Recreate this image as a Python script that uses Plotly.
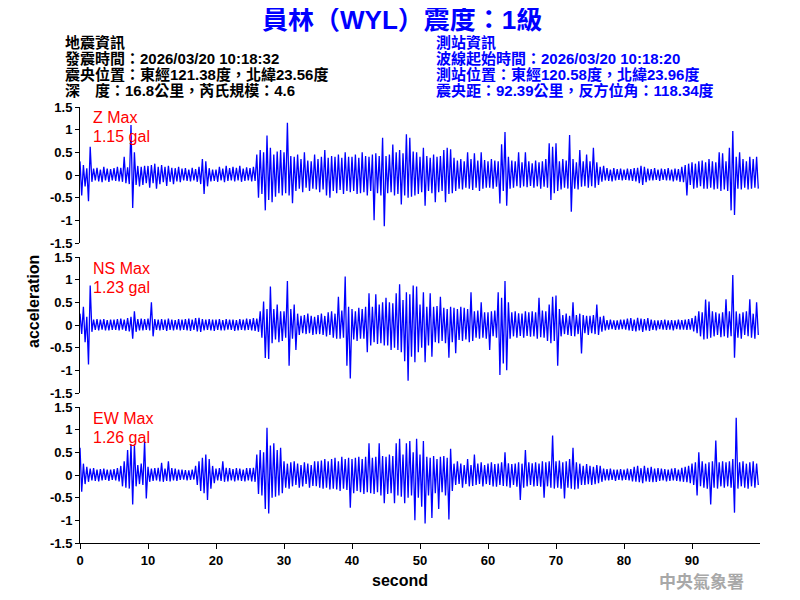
import plotly.graph_objects as go

# ---------------- data (gal), sampled every 0.25 s ----------------
T_STEP = 0.25

z_vals = [
    .30,-.45,.22,-.25,.15,-.58,.62,-.15,.14,-.12,.16,-.14,.12,-.16,.18,-.12,.14,-.15,.13,-.12,
    .15,-.13,.18,-.14,.16,-.15,.40,-.18,.17,-.20,1.10,-.73,.50,-.22,.20,-.25,.18,-.22,.20,-.18,
    .20,-.28,.22,-.18,.25,-.30,.18,-.20,.22,-.16,.18,-.24,.20,-.15,.16,-.20,.15,-.14,.18,-.16,
    .14,-.12,.15,-.13,.12,-.14,.16,-.12,.13,-.15,.18,-.20,.35,-.42,.30,-.25,.15,-.14,.12,-.13,
    .12,-.15,.18,-.12,.14,-.16,.20,-.13,.15,-.12,.18,-.14,.16,-.12,.20,-.15,.14,-.13,.17,-.12,
    .15,-.14,.18,-.13,.45,-.50,.55,-.42,.50,-.78,.87,-.55,.60,-.60,.45,-.48,.52,-.40,.55,-.45,
    .50,-.40,1.15,-.45,.42,-.62,.40,-.35,.45,-.30,.35,-.38,.50,-.28,.32,-.35,.30,-.30,.45,-.32,
    .35,-.38,.40,-.32,.55,-.45,.38,-.50,.42,-.35,.40,-.40,.45,-.33,.38,-.42,.50,-.35,.40,-.38,
    .40,-.35,.45,-.42,.38,-.40,.50,-.38,.42,-.45,.40,-.35,.45,-1.00,.48,-.40,.42,-.45,.82,-1.13,
    .42,-.40,.45,-.38,.67,-.45,.50,-.42,.55,-.65,.48,-.45,.90,-.50,.82,-.48,.52,-.45,.50,-.42,
    .40,-.38,.60,-.68,.42,-.35,.38,-.40,.45,-.60,.40,-.38,.42,-.35,.55,-.60,.60,-.42,.57,-.40,
    .38,-.35,.32,-.30,.35,-.32,.30,-.28,.50,-.30,.35,-.33,.48,-.28,.32,-.35,.50,-.30,.33,-.28,
    .30,-.28,.35,-.30,.32,-.26,.30,-.63,.68,-.35,.95,-.68,.40,-.30,.32,-.28,.30,-.25,.50,-.28,
    .28,-.25,.50,-.27,.30,-.24,.26,-.28,.32,-.25,.28,-.30,.30,-.26,.35,-.28,.70,-.55,.62,-.40,
    .70,-.35,.30,-.32,.35,-.28,.32,-.30,.88,-.81,.35,-.30,.28,-.32,.55,-.26,.30,-.25,.45,-.28,
    .30,-.25,.60,-.28,.28,-.22,.18,-.15,.20,-.12,.15,-.13,.12,-.14,.15,-.12,.13,-.11,.14,-.12,
    .12,-.11,.14,-.12,.13,-.13,.15,-.14,.16,-.18,.20,-.22,.18,-.16,.14,-.12,.13,-.12,.15,-.11,
    .12,-.13,.14,-.11,.13,-.12,.15,-.12,.12,-.14,.14,-.12,.13,-.15,.18,-.16,.22,-.45,.25,-.22,
    .28,-.30,.25,-.28,.30,-.25,.32,-.30,.28,-.30,.35,-.28,.30,-.32,.28,-.30,.50,-.35,.48,-.32,
    .30,-.35,.60,-.78,.97,-.88,.40,-.30,.50,-.32,.35,-.28,.30,-.32,.40,-.30,.35,-.28,.40,-.30,
]

ns_vals = [
    .25,-.20,.40,-.38,.18,-.87,.87,-.15,.12,-.11,.13,-.12,.12,-.10,.13,-.12,.11,-.12,.12,-.11,
    .12,-.11,.13,-.12,.14,-.10,.12,-.13,.15,-.14,.18,-.30,.30,-.15,.13,-.12,.14,-.12,.13,-.11,
    .14,-.12,.50,-.25,.13,-.11,.12,-.12,.13,-.11,.12,-.13,.14,-.11,.12,-.12,.11,-.10,.13,-.12,
    .12,-.11,.13,-.12,.14,-.13,.12,-.11,.15,-.14,.16,-.15,.13,-.12,.12,-.11,.13,-.12,.12,-.13,
    .12,-.11,.13,-.12,.11,-.12,.13,-.10,.12,-.11,.12,-.13,.11,-.12,.13,-.11,.12,-.12,.14,-.11,
    .13,-.12,.15,-.13,.14,-.15,.30,-.28,.52,-.73,.35,-.75,.85,-.40,.35,-.32,.45,-.38,.30,-.35,
    .30,-.28,.97,-.90,.35,-.30,.45,-.55,.25,-.22,.20,-.18,.22,-.20,.25,-.18,.20,-.22,.18,-.20,
    .22,-.20,.25,-.22,.20,-.25,.28,-.22,.30,-.28,.25,-.30,.62,-.30,.32,-.28,1.07,-.90,.40,-1.18,
    .35,-.32,.30,-.35,.38,-.30,.35,-.30,.40,-.60,.70,-.45,.40,-.38,.68,-.42,.45,-.40,.50,-.45,
    .60,-.45,.50,-.55,.48,-.50,.70,-.55,.90,-.60,.55,-.80,.72,-1.23,.68,-.70,.87,-.82,.85,-.60,
    .45,-.50,.72,-.82,.40,-.45,.70,-.70,.40,-.38,.42,-.40,.62,-.35,.38,-.40,.35,-.72,.40,-.38,
    .38,-.62,.35,-.33,.40,-.35,.38,-.32,.35,-.38,.72,-.35,.30,-.28,.32,-.30,.50,-.28,.28,-.30,
    .28,-.55,.30,-.25,.32,-.28,.72,-1.10,.60,-.85,.97,-1.00,.50,-.30,.28,-.25,.30,-.28,.26,-.24,
    .25,-.28,.30,-.24,.28,-.26,.30,-.25,.28,-.30,.60,-.27,.32,-.28,.30,-.35,.45,-.40,.62,-.35,
    .65,-.90,.35,-.25,.22,-.20,.25,-.22,.20,-.24,.50,-.25,.22,-.20,.25,-.63,.22,-.18,.20,-.22,
    .20,-.18,.22,-.20,.45,-.22,.18,-.15,.20,-.12,.11,-.10,.12,-.09,.10,-.11,.10,-.10,.12,-.09,
    .12,-.10,.14,-.12,.15,-.13,.12,-.14,.16,-.12,.14,-.15,.13,-.12,.15,-.13,.12,-.11,.10,-.12,
    .10,-.09,.11,-.10,.12,-.11,.10,-.10,.11,-.12,.10,-.09,.12,-.10,.11,-.10,.12,-.11,.13,-.10,
    .15,-.14,.20,-.18,.30,-.25,.28,-.32,.56,-.30,.52,-.28,.30,-.25,.28,-.22,.25,-.27,.28,-.25,
    .57,-.28,.30,-.25,1.10,-.72,.30,-.28,.25,-.30,.28,-.22,.30,-.25,.57,-.28,.25,-.30,.50,-.22,
]

ew_vals = [
    .60,-.37,.25,-.20,.18,-.15,.14,-.12,.15,-.13,.12,-.14,.13,-.12,.14,-.11,.12,-.13,.12,-.11,
    .13,-.12,.15,-.14,.20,-.25,.30,-.28,.55,-.30,.68,-.65,.67,-.25,.22,-.20,.25,-.22,.75,-.52,
    .18,-.15,.14,-.13,.15,-.12,.16,-.14,.27,-.15,.14,-.13,.30,-.14,.15,-.12,.14,-.13,.12,-.11,
    .12,-.10,.11,-.12,.10,-.11,.12,-.10,.20,-.22,.30,-.35,.38,-.40,.45,-.55,.35,-.30,.20,-.18,
    .14,-.12,.15,-.13,.30,-.15,.16,-.14,.15,-.12,.13,-.14,.15,-.12,.14,-.13,.12,-.14,.15,-.12,
    .15,-.14,.16,-.15,.45,-.42,.55,-.45,.50,-.75,1.04,-.85,.65,-.50,.70,-.48,.55,-.45,.60,-.40,
    .30,-.28,.25,-.30,.28,-.25,.30,-.22,.25,-.28,.22,-.25,.28,-.20,.25,-.28,.22,-.24,.30,-.25,
    .30,-.28,.32,-.30,.35,-.28,.30,-.32,.35,-.30,.38,-.32,.30,-.35,.40,-.30,.35,-.33,.38,-.72,
    .35,-.40,.38,-.35,.40,-.38,.35,-.42,.40,-.38,.70,-.40,.38,-.42,.40,-.38,.70,-.45,.42,-.62,
    .40,-.42,.45,-.40,.42,-.62,.70,-.45,.80,-.48,.45,-.62,.70,-.50,.75,-.45,.50,-1.00,.80,-.50,
    .45,-.70,.75,-1.07,.40,-.45,.38,-.95,.42,-.40,.35,-.75,.40,-.38,.42,-.45,.38,-.98,.58,-.35,
    .25,-.22,.30,-.20,.25,-.28,.22,-.20,.35,-.25,.22,-.24,.45,-.22,.25,-.20,.28,-.25,.22,-.20,
    .25,-.22,.28,-.25,.24,-.26,.25,-.22,.28,-.24,.50,-.25,.26,-.28,.24,-.22,.25,-.26,.28,-.55,
    .25,-.28,.55,-.25,.28,-.22,.26,-.25,.28,-.24,.25,-.26,.30,-.50,.28,-.25,.30,-.28,.87,-.30,
    .30,-.28,.32,-.30,.28,-.52,.30,-.28,.35,-.30,.60,-.32,.28,-.30,.25,-.22,.20,-.22,.24,-.20,
    .20,-.22,.18,-.20,.22,-.18,.20,-.15,.14,-.12,.13,-.12,.14,-.11,.12,-.13,.12,-.11,.13,-.12,
    .12,-.11,.14,-.12,.13,-.14,.18,-.15,.20,-.16,.15,-.18,.20,-.14,.16,-.15,.18,-.16,.14,-.15,
    .15,-.13,.14,-.12,.13,-.14,.12,-.13,.14,-.12,.15,-.13,.12,-.14,.16,-.15,.18,-.16,.20,-.18,
    .25,-.22,.28,-.45,.50,-.25,.30,-.28,.25,-.30,.28,-.65,.30,-.28,.76,-.30,.28,-.25,.30,-.28,
    .28,-.25,.30,-.28,.35,-.83,1.26,-.30,.28,-.25,.30,-.28,.25,-.30,.28,-.25,.30,-.28,.25,-.22,
]

components = ["Z", "NS", "EW"]
max_labels = ["1.15 gal", "1.23 gal", "1.26 gal"]
y_tick_vals = [-1.5, -1, -0.5, 0, 0.5, 1, 1.5]
y_tick_text = ["-1.5", "-1", "-0.5", "0", "0.5", "1", "1.5"]
x_tick_vals = [0, 10, 20, 30, 40, 50, 60, 70, 80, 90]

title_text = "員林（WYL）震度：1級"
left_info = ["地震資訊",
             "發震時間：2026/03/20 10:18:32",
             "震央位置：東經121.38度，北緯23.56度",
             "深　度：16.8公里，芮氏規模：4.6"]
right_info = ["測站資訊",
              "波線起始時間：2026/03/20 10:18:20",
              "測站位置：東經120.58度，北緯23.96度",
              "震央距：92.39公里，反方位角：118.34度"]

# ---------------- figure ----------------
# the page body has an 8 px margin, so the figure is laid out in window
# pixels shifted by OFF
OFF = 8
W, H = 800 - 2 * OFF, 600 - 2 * OFF
def px(x):
    return (x - OFF) / W
def py(y):
    return 1 - (y - OFF) / H

series = [z_vals, ns_vals, ew_vals]
times = [i * T_STEP for i in range(len(z_vals))]

fig = go.Figure()
panel_px = [(107, 243), (257, 393), (407, 543)]
tick_font = dict(family="Liberation Sans, Arial", size=13, color="black", weight="bold")

for i, vals in enumerate(series):
    n = i + 1
    sx = "" if n == 1 else str(n)
    fig.add_trace(go.Scatter(x=times, y=vals, mode="lines",
                             line=dict(color="#0000FF", width=1.3, simplify=False),
                             xaxis="x" + sx, yaxis="y" + sx,
                             showlegend=False, hoverinfo="skip"))
    top, bot = panel_px[i]
    fig.layout["yaxis" + sx] = dict(
        domain=[py(bot), py(top)], range=[-1.5, 1.5], anchor="x" + sx,
        showgrid=False, zeroline=False, showline=True, linecolor="black", linewidth=1,
        ticks="outside", ticklen=4, tickcolor="black", tickvals=y_tick_vals,
        ticktext=y_tick_text, tickfont=tick_font, automargin=False,
    )
    xa = dict(domain=[px(80), px(760)], range=[0, 100], anchor="y" + sx,
              showgrid=False, zeroline=False, automargin=False)
    if n == 3:
        xa.update(showline=True, linecolor="black", linewidth=1, ticks="outside",
                  ticklen=5, tickcolor="black", tickvals=x_tick_vals,
                  tickfont=tick_font)
    else:
        xa.update(visible=False)
    fig.layout["xaxis" + sx] = xa

    fig.add_annotation(x=px(91), y=py(top + 11), xref="paper", yref="paper",
                       text=components[i] + " Max", showarrow=False,
                       xanchor="left", yanchor="middle",
                       font=dict(family="Liberation Sans, Arial", size=16, color="#FF0000"))
    fig.add_annotation(x=px(91), y=py(top + 30), xref="paper", yref="paper",
                       text=max_labels[i], showarrow=False,
                       xanchor="left", yanchor="middle",
                       font=dict(family="Liberation Sans, Arial", size=16, color="#FF0000"))

cjk = "Liberation Sans, Noto Sans CJK TC"
fig.add_annotation(x=px(402), y=py(20), xref="paper", yref="paper", text=title_text,
                   showarrow=False, xanchor="center", yanchor="middle",
                   font=dict(family=cjk, size=26, color="#0000FF", weight="bold"))

line_y = [43, 59, 75, 91]
for txt, yy in zip(left_info, line_y):
    fig.add_annotation(x=px(63), y=py(yy), xref="paper", yref="paper", text=txt,
                       showarrow=False, xanchor="left", yanchor="middle",
                       font=dict(family=cjk, size=15, color="black", weight="bold"))
for txt, yy in zip(right_info, line_y):
    fig.add_annotation(x=px(434), y=py(yy), xref="paper", yref="paper", text=txt,
                       showarrow=False, xanchor="left", yanchor="middle",
                       font=dict(family=cjk, size=15, color="#0000FF", weight="bold"))

fig.add_annotation(x=px(33), y=py(302), xref="paper", yref="paper", text="acceleration",
                   showarrow=False, textangle=-90, xanchor="center", yanchor="middle",
                   font=dict(family="Liberation Sans, Arial", size=16, color="black", weight="bold"))
fig.add_annotation(x=px(400), y=py(580), xref="paper", yref="paper", text="second",
                   showarrow=False, xanchor="center", yanchor="middle",
                   font=dict(family="Liberation Sans, Arial", size=16, color="black", weight="bold"))
fig.add_annotation(x=px(701), y=py(580), xref="paper", yref="paper", text="中央氣象署",
                   showarrow=False, xanchor="center", yanchor="middle",
                   font=dict(family="Noto Sans CJK TC", size=17, color="#A8A8A8", weight="bold"))

fig.update_layout(width=W, height=H, margin=dict(l=0, r=0, t=0, b=0, autoexpand=False),
                  paper_bgcolor="white", plot_bgcolor="white", showlegend=False)

fig.write_html("out.html")
